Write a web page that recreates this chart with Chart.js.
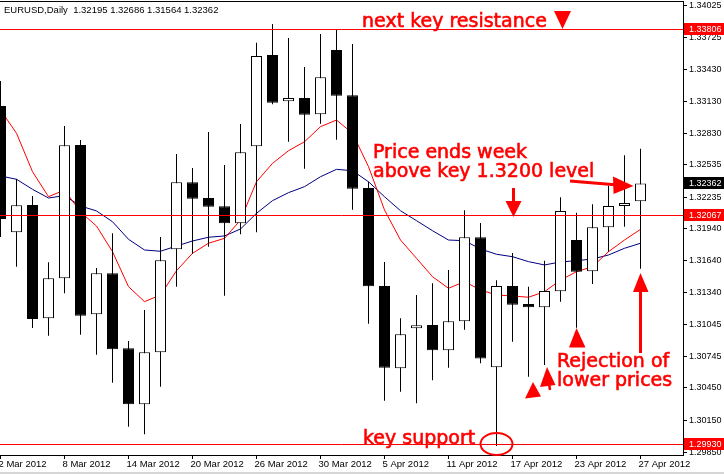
<!DOCTYPE html>
<html>
<head>
<meta charset="utf-8">
<title>EURUSD Daily</title>
<script src="https://cdn.jsdelivr.net/npm/chart.js@4.4.0/dist/chart.umd.min.js"></script>
<style>
  html, body { margin: 0; padding: 0; background: #fff; }
  #wrap { width: 724px; height: 474px; position: relative; }
</style>
</head>
<body>
<div id="wrap"><canvas id="chart" width="724" height="474"></canvas></div>
<script>
// one entry per daily candle, 2 Mar 2012 .. 27 Apr 2012
const dates = [
    '2 Mar 2012', '5 Mar 2012', '6 Mar 2012', '7 Mar 2012', '8 Mar 2012', '9 Mar 2012',
    '12 Mar 2012', '13 Mar 2012', '14 Mar 2012', '15 Mar 2012', '16 Mar 2012',
    '19 Mar 2012', '20 Mar 2012', '21 Mar 2012', '22 Mar 2012', '23 Mar 2012',
    '26 Mar 2012', '27 Mar 2012', '28 Mar 2012', '29 Mar 2012', '30 Mar 2012',
    '2 Apr 2012', '3 Apr 2012', '4 Apr 2012', '5 Apr 2012', '6 Apr 2012',
    '9 Apr 2012', '10 Apr 2012', '11 Apr 2012', '12 Apr 2012', '13 Apr 2012',
    '16 Apr 2012', '17 Apr 2012', '18 Apr 2012', '19 Apr 2012', '20 Apr 2012',
    '23 Apr 2012', '24 Apr 2012', '25 Apr 2012', '26 Apr 2012', '27 Apr 2012'
];
const opens = [
    1.33086, 1.31905, 1.32161, 1.31101, 1.31475, 1.32722, 1.31139, 1.31522, 1.30821, 1.30297,
    1.30784, 1.31746, 1.32373, 1.32226, 1.32148, 1.31990, 1.32709, 1.33563, 1.33130, 1.33161,
    1.33009, 1.33610, 1.33186, 1.32320, 1.31403, 1.30634, 1.31008, 1.31039, 1.30802, 1.31073,
    1.31859, 1.30643, 1.31403, 1.31235, 1.31204, 1.31354, 1.31833, 1.31541, 1.31952, 1.32151,
    1.32195
];
const highs = [
    1.33320, 1.32404, 1.32245, 1.31625, 1.32899, 1.32768, 1.31572, 1.31896, 1.30889, 1.31179,
    1.31861, 1.32637, 1.32507, 1.32843, 1.32535, 1.32918, 1.33678, 1.33853, 1.33722, 1.33451,
    1.33759, 1.33797, 1.33666, 1.32378, 1.31628, 1.31101, 1.31319, 1.31429, 1.31553, 1.32111,
    1.31992, 1.31457, 1.31712, 1.31397, 1.31640, 1.32233, 1.32089, 1.32167, 1.32341, 1.32625,
    1.32686
];
const lows = [
    1.31861, 1.31584, 1.31011, 1.30939, 1.31335, 1.30948, 1.30761, 1.30499, 1.30088, 1.30017,
    1.30462, 1.31397, 1.31705, 1.31771, 1.31313, 1.31887, 1.31905, 1.33102, 1.32752, 1.32500,
    1.32921, 1.32771, 1.32117, 1.31051, 1.30331, 1.30415, 1.30307, 1.30522, 1.30640, 1.30995,
    1.30681, 1.29908, 1.30883, 1.30555, 1.30665, 1.31257, 1.31014, 1.31422, 1.31724, 1.31958,
    1.31564
];
const closes = [
    1.32030, 1.32158, 1.31095, 1.31475, 1.32719, 1.31126, 1.31522, 1.30812, 1.30297, 1.30784,
    1.31644, 1.32373, 1.32220, 1.32145, 1.31990, 1.32653, 1.33554, 1.33117, 1.33161, 1.33005,
    1.33354, 1.33182, 1.32313, 1.31401, 1.30640, 1.30952, 1.31036, 1.30802, 1.31073, 1.31859,
    1.30726, 1.31403, 1.31229, 1.31204, 1.31357, 1.32105, 1.31537, 1.31952, 1.32151, 1.32179,
    1.32362
];
// moving averages (red = fast, navy = slow)
const maFast = [
    1.33049, 1.32831, 1.32472, 1.32238, 1.32301, 1.32095, 1.31964, 1.31724, 1.31397, 1.31257,
    1.31319, 1.31546, 1.31709, 1.31803, 1.31849, 1.32020, 1.32378, 1.32550, 1.32668, 1.32752,
    1.32893, 1.32955, 1.32831, 1.32519, 1.32114, 1.31833, 1.31662, 1.31490, 1.31382, 1.31444,
    1.31366, 1.31319, 1.31310, 1.31298, 1.31350, 1.31459, 1.31537, 1.31584, 1.31724, 1.31833,
    1.31933
];
const maSlow = [
    1.32432, 1.32401, 1.32307, 1.32226, 1.32248, 1.32151, 1.32105, 1.32004, 1.31840, 1.31740,
    1.31728, 1.31777, 1.31824, 1.31859, 1.31871, 1.31936, 1.32083, 1.32201, 1.32276, 1.32332,
    1.32425, 1.32494, 1.32481, 1.32378, 1.32238, 1.32107, 1.32014, 1.31920, 1.31833, 1.31827,
    1.31749, 1.31700, 1.31677, 1.31631, 1.31600, 1.31628, 1.31640, 1.31656, 1.31693, 1.31756,
    1.31803
];
const priceTicks = [
    1.34025, 1.33725, 1.33430, 1.33130, 1.32830, 1.32535, 1.32235, 1.31940,
    1.31640, 1.31340, 1.31045, 1.30745, 1.30450, 1.30150, 1.29850
];
const levels = [1.33806, 1.32067, 1.29930];   // resistance, 1.3200 area, support
const symbolName = 'EURUSD,Daily';

const RED = '#ff0000';
const axisFont = { family: '"Liberation Sans", Arial, sans-serif', size: 9 };
const noteFont = '19px "DejaVu Sans", Verdana, sans-serif';

const idx = dates.map((d, i) => i);
const wickData = idx.map(i => ({ x: i, y: [lows[i], highs[i]] }));
const bodyData = idx.map(i => ({ x: i, y: [opens[i], closes[i]] }));
const bodyColors = idx.map(i => closes[i] >= opens[i] ? '#ffffff' : '#000000');

function zeroPadding(scale) {
    scale.paddingLeft = 0;
    scale.paddingRight = 0;
    scale.paddingTop = 0;
    scale.paddingBottom = 0;
}

function fillTri(ctx, pts) {
    ctx.beginPath();
    ctx.moveTo(pts[0][0], pts[0][1]);
    for (let i = 1; i < pts.length; i++) ctx.lineTo(pts[i][0], pts[i][1]);
    ctx.closePath();
    ctx.fill();
}

function line(ctx, x1, y1, x2, y2, w) {
    ctx.lineWidth = w;
    ctx.beginPath();
    ctx.moveTo(x1, y1);
    ctx.lineTo(x2, y2);
    ctx.stroke();
}

// heavier text, closer to the screenshot's rendering
function note(ctx, str, x, y) {
    ctx.fillText(str, x, y);
    ctx.lineWidth = 0.6;
    ctx.strokeText(str, x, y);
}

const overlay = {
    id: 'overlay',
    beforeDraw(chart) {
        const ctx = chart.ctx;
        ctx.save();
        ctx.fillStyle = '#fff';
        ctx.fillRect(0, 0, chart.width, chart.height);
        ctx.fillStyle = '#d6d6d6';
        ctx.fillRect(0, chart.height - 2, chart.width, 2);
        ctx.restore();
    },
    afterDatasetsDraw(chart) {
        // horizontal level lines
        const { ctx, chartArea: a, scales: { y } } = chart;
        ctx.save();
        ctx.strokeStyle = RED;
        levels.forEach(v => {
            const py = Math.round(y.getPixelForValue(v)) + 0.5;
            line(ctx, a.left, py, a.right, py, 1);
        });
        ctx.restore();
    },
    afterDraw(chart) {
        const { ctx, chartArea: a, scales: { y } } = chart;
        ctx.save();

        // frame top edge
        ctx.strokeStyle = '#000';
        line(ctx, a.left, a.top - 0.5, a.right + 1, a.top - 0.5, 1);

        // header text
        const last = dates.length - 1;
        const header = symbolName + '  ' + [opens[last], highs[last], lows[last], closes[last]]
            .map(v => v.toFixed(5)).join(' ');
        ctx.fillStyle = '#000';
        ctx.font = '9.5px "Liberation Sans", Arial, sans-serif';
        ctx.textBaseline = 'alphabetic';
        ctx.textAlign = 'left';
        ctx.fillText(header, 4, 13);

        // price boxes on the right scale
        const boxes = levels.map(v => ({ v, bg: RED }));
        boxes.push({ v: closes[last], bg: '#000' });
        ctx.font = '9px "Liberation Sans", Arial, sans-serif';
        ctx.textBaseline = 'middle';
        boxes.forEach(b => {
            const py = Math.round(y.getPixelForValue(b.v));
            ctx.fillStyle = b.bg;
            ctx.fillRect(a.right + 1, py - 6, chart.width - a.right - 1, 12);
            ctx.fillStyle = '#fff';
            ctx.fillText(b.v.toFixed(5), a.right + 6, py + 0.5);
        });

        // annotations
        ctx.fillStyle = RED;
        ctx.strokeStyle = RED;
        ctx.font = noteFont;
        ctx.textBaseline = 'alphabetic';
        note(ctx, 'next key resistance', 362, 26.5);
        note(ctx, 'Price ends week', 373, 158);
        note(ctx, 'above key 1.3200 level', 373, 177);
        note(ctx, 'Rejection of', 557, 366.5);
        note(ctx, 'lower prices', 557, 386);
        note(ctx, 'key support', 363, 444);

        fillTri(ctx, [[554, 11], [571, 11], [562.5, 29]]);

        // down arrow onto 1.3200
        line(ctx, 513.5, 188, 513.5, 203, 3);
        fillTri(ctx, [[505.5, 201], [521.5, 201], [513.5, 217]]);

        // arrow to the last candle
        line(ctx, 570, 181, 618, 185, 3);
        fillTri(ctx, [[613, 176.5], [613.5, 194], [633.5, 186]]);

        // long up arrow under the last candle
        line(ctx, 640.5, 353, 640.5, 288, 3);
        fillTri(ctx, [[633, 292], [648.5, 292], [640.5, 273]]);

        // small arrow heads at the rejected lows
        fillTri(ctx, [[576.5, 328], [569, 347.5], [585.5, 347.5]]);
        fillTri(ctx, [[547, 367], [540, 387], [555.5, 385]]);
        line(ctx, 548.5, 380, 550, 390, 2.5);
        fillTri(ctx, [[533, 382], [525, 398.5], [541, 396.5]]);

        // circle round the support spike
        ctx.lineWidth = 2;
        ctx.beginPath();
        ctx.ellipse(496.5, 444, 16, 11, 0, 0, Math.PI * 2);
        ctx.stroke();

        ctx.restore();
    }
};

const ctx = document.getElementById('chart').getContext('2d');
new Chart(ctx, {
    type: 'bar',
    data: {
        datasets: [
            {
                label: 'body',
                data: bodyData,
                backgroundColor: bodyColors,
                borderColor: '#000',
                borderWidth: 1,
                borderSkipped: false,
                barThickness: 11,
                inflateAmount: 0,
                grouped: false,
                order: 0
            },
            {
                label: 'wick',
                data: wickData,
                backgroundColor: '#000',
                borderWidth: 0,
                barThickness: 1,
                inflateAmount: 0,
                grouped: false,
                order: 1
            },
            {
                type: 'line',
                label: 'MA fast',
                data: idx.map(i => ({ x: i, y: maFast[i] })),
                borderColor: RED,
                borderWidth: 1,
                pointRadius: 0,
                tension: 0,
                order: 2
            },
            {
                type: 'line',
                label: 'MA slow',
                data: idx.map(i => ({ x: i, y: maSlow[i] })),
                borderColor: '#000080',
                borderWidth: 1,
                pointRadius: 0,
                tension: 0,
                order: 3
            }
        ]
    },
    options: {
        responsive: false,
        animation: false,
        events: [],
        layout: { padding: { top: 2, left: 0, right: 0, bottom: 0 } },
        plugins: {
            legend: { display: false },
            tooltip: { enabled: false }
        },
        scales: {
            x: {
                type: 'linear',
                offset: false,
                min: -0.03125,
                max: 42.65625,
                grid: { display: true, drawOnChartArea: false, drawTicks: true, tickLength: 4, color: '#000', offset: false },
                border: { display: true, color: '#000', width: 1 },
                ticks: {
                    autoSkip: false,
                    maxRotation: 0,
                    align: 'start',
                    labelOffset: -2,
                    padding: 0,
                    color: '#000',
                    font: { family: axisFont.family, size: 9.5 },
                    callback: v => dates[v] || ''
                },
                afterBuildTicks: s => {
                    s.ticks = idx.filter(i => i % 4 === 0).map(i => ({ value: i }));
                },
                afterFit: s => {
                    s.height = 19;
                    zeroPadding(s);
                }
            },
            y: {
                type: 'linear',
                position: 'right',
                beginAtZero: false,
                min: 1.298232,
                max: 1.340584,
                grid: { display: true, drawOnChartArea: false, drawTicks: true, tickLength: 4, color: '#000' },
                border: { display: true, color: '#000', width: 1 },
                ticks: {
                    autoSkip: false,
                    padding: 2,
                    color: '#000',
                    font: axisFont,
                    callback: v => Number(v).toFixed(5)
                },
                afterBuildTicks: s => {
                    s.ticks = priceTicks.map(v => ({ value: v }));
                },
                afterFit: s => {
                    s.width = 41;
                    zeroPadding(s);
                }
            }
        }
    },
    plugins: [overlay]
});
</script>
</body>
</html>
